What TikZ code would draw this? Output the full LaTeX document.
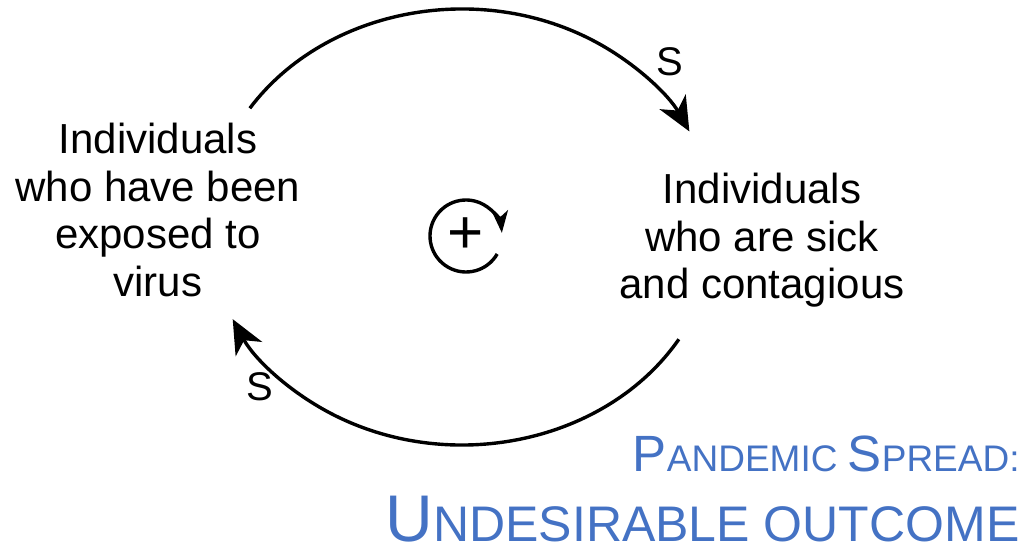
\documentclass[tikz,border=0pt]{standalone}
\usepackage{fontspec}
\setmainfont{Liberation Sans}
\usetikzlibrary{arrows.meta}
\definecolor{titleblue}{RGB}{68,114,196}

\begin{document}
\begin{tikzpicture}[x=0.5pt,y=0.5pt,
  varnode/.style={font=\fontsize{21pt}{23.75pt}\selectfont,inner sep=0pt,align=center,anchor=north},
  link/.style={line width=1.7pt,-{Stealth[length=17pt,width=15pt,inset=5pt]}},
  polarity/.style={font=\fontsize{20pt}{20pt}\selectfont,inner sep=0pt},
  titletext/.style={text=titleblue,inner sep=0pt,anchor=base east}]
\useasboundingbox (0,0) rectangle (1030,-550);

% variables
\node[varnode] (exposed) at (158,-123) {Individuals\\who have been\\exposed to\\virus};
\node[varnode] (sick) at (762,-173) {Individuals\\who are sick\\and contagious};

% causal links
\coordinate (loop) at (462,-227);
\draw[link] (loop) ++(147:126.5pt and 109pt) arc[start angle=147,end angle=26,x radius=126.5pt,y radius=109pt];
\draw[link] (loop) ++(-31:126.5pt and 109pt) arc[start angle=-31,end angle=-155,x radius=126.5pt,y radius=109pt];
\node[polarity] (s1) at (670,-62) {S};
\node[polarity] (s2) at (260,-387) {S};

% loop symbol
\coordinate (sym) at (466,-236);
\draw[line width=1.7pt,-{Stealth[length=11pt,width=8pt,inset=3pt]}] (sym) ++(-30:18pt) arc[start angle=-30,end angle=-355,radius=18pt];
\node[font=\fontsize{31pt}{31pt}\selectfont,inner sep=0pt] (plus) at (sym) {+};

% title
\node[titletext,font=\fontsize{18.5pt}{18.5pt}\selectfont] (title1) at (1020,-472)
  {{\fontsize{25.5pt}{25.5pt}\selectfont P}ANDEMIC {\fontsize{25.5pt}{25.5pt}\selectfont S}PREAD:};
\node[titletext,font=\fontsize{25pt}{25pt}\selectfont] (title2) at (1020,-542)
  {{\fontsize{33pt}{33pt}\selectfont U}NDESIRABLE OUTCOME};
\end{tikzpicture}
\end{document}
